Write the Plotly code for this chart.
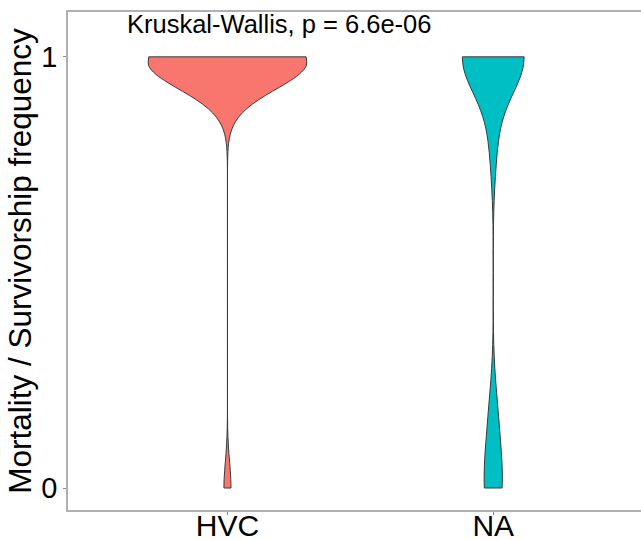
import plotly.graph_objects as go

# ---- data ----
categories = ["HVC", "NA"]
hvc_values = [1.0] * 36 + [0.95] * 12 + [0.0] * 2
na_values = [1.0] * 20 + [0.8] * 2 + [0.17] * 2 + [0.1] * 1 + [0.0] * 5
y_tick_vals = [0, 1]
y_tick_text = ["0", "1"]
stat_label = "Kruskal-Wallis, p = 6.6e-06"
y_title = "Mortality / Survivorship frequency"

colors = {"HVC": "#F8766D", "NA": "#00BFC4"}
bandwidths = {"HVC": 0.06, "NA": 0.085}
widths = {"HVC": 0.594, "NA": 0.233}
series = {"HVC": hvc_values, "NA": na_values}

FONT = "Liberation Sans, Arial, sans-serif"

fig = go.Figure()
for cat in categories:
    vals = series[cat]
    fig.add_trace(go.Violin(
        x=[cat] * len(vals),
        y=vals,
        name=cat,
        scalegroup=cat,
        scalemode="width",
        width=widths[cat],
        bandwidth=bandwidths[cat],
        spanmode="hard",
        points=False,
        box_visible=False,
        meanline_visible=False,
        fillcolor=colors[cat],
        opacity=1,
        line=dict(color="#3a3a3a", width=1),
        showlegend=False,
    ))

axis_line = "#b0b0b0"
fig.update_layout(
    width=641,
    height=540,
    margin=dict(l=68, r=0, t=12, b=30),
    paper_bgcolor="white",
    plot_bgcolor="white",
    violinmode="overlay",
    font=dict(family=FONT, color="black"),
    xaxis=dict(
        type="category",
        categoryorder="array",
        categoryarray=categories,
        range=[-0.6, 1.556],
        automargin=False,
        showline=True,
        mirror=True,
        linecolor=axis_line,
        linewidth=1.5,
        ticks="outside",
        ticklen=3,
        tickcolor="#888888",
        tickfont=dict(size=30, family=FONT, color="black"),
        ticklabelstandoff=-15,
        showgrid=False,
        zeroline=False,
    ),
    yaxis=dict(
        range=[-0.051, 1.104],
        automargin=False,
        tickvals=y_tick_vals,
        ticktext=y_tick_text,
        showline=True,
        linecolor=axis_line,
        linewidth=1.5,
        ticks="outside",
        ticklen=3,
        tickcolor="#888888",
        tickfont=dict(size=29, family=FONT, color="black"),
        showgrid=False,
        zeroline=False,
        title=dict(text=y_title, font=dict(size=31.5, family=FONT, color="black"), standoff=0),
    ),
)

fig.add_annotation(
    text=stat_label,
    xref="paper", yref="y",
    x=0.369, y=1.077,
    xanchor="center", yanchor="middle",
    showarrow=False,
    font=dict(size=25.5, family=FONT, color="black"),
)

fig.write_html(
    "out.html",
    config={"displayModeBar": False},
    post_script="document.body.style.margin='0';document.body.style.overflow='hidden';",
)
